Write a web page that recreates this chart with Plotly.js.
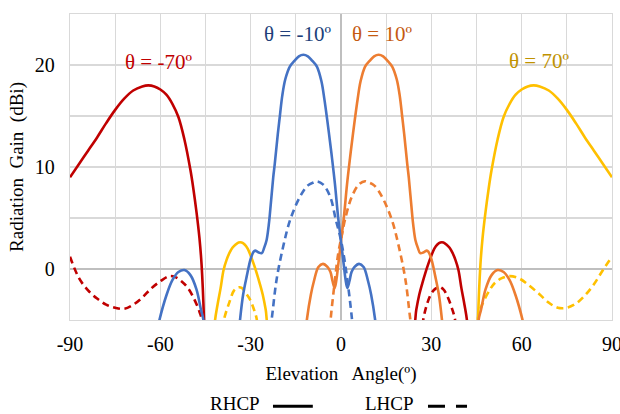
<!DOCTYPE html>
<html>
<head>
<meta charset="utf-8">
<script src="https://cdn.plot.ly/plotly-3.0.1.min.js"></script>
<style>html,body{margin:0;padding:0;background:#fff;}#chart{width:620px;height:414px;}</style>
</head>
<body>
<div id="chart"></div>
<script>
// theta = -70 deg
const red_R_x = [-90,-87,-84,-81,-78,-75,-72,-69,-66,-64,-62,-60,-58,-56,-54,-52,-50,-49,-48,-47,-46.3,-45.5,-45,-30,-10,10,24,25,26,27,28,29,30,31,32,33,34,35,36,37,38,39,40,41,42,42.6];
const red_R_y = [9.0,10.3,11.6,12.9,14.3,15.6,16.7,17.5,17.9,18.0,17.9,17.6,17.1,16.2,14.9,12.7,9.7,7.8,5.6,3.0,0.4,-5.0,-12,-15,-15,-15,-6,-4.0,-2.5,-1.4,-0.4,0.5,1.3,2.0,2.4,2.6,2.6,2.4,2.1,1.6,0.9,-0.1,-1.9,-3.5,-5.5,-12];
const red_L_x = [-90,-87,-84,-81,-78,-75,-72,-69,-66,-63,-60,-57,-55,-53,-51,-49,-47,-46,-45,-30,0,20,26.5,27.3,28.5,30,31.5,32.6,34,35.5,37,37.9,38.5];
const red_L_y = [1.2,-0.9,-2.1,-2.9,-3.5,-3.8,-3.9,-3.5,-2.8,-1.9,-1.2,-0.7,-0.8,-1.2,-1.8,-2.8,-4.2,-5.3,-12,-15,-15,-15,-7,-5.0,-3.5,-2.4,-1.9,-1.75,-2.0,-2.8,-4.0,-5.0,-7];
// theta = -10 deg
const blue_R_x = [-61,-60.3,-58,-56,-54,-52,-50,-48,-46.5,-45.7,-45,-40,-34,-33.5,-32.5,-31.3,-30,-29,-28.5,-27.5,-26.3,-25.5,-24.7,-24,-23.6,-22.5,-22,-21,-20.3,-19.5,-18.5,-17,-15.5,-14,-12.5,-11,-9.5,-8,-6.5,-5.5,-4.75,-4,-3,-2,-1,0,1,1.5,2.1,2.8,3.5,4.5,6,7.5,9,10,11.3,12];
const blue_R_y = [-6,-5.0,-2.6,-1.1,-0.3,-0.1,-0.6,-2.0,-4.0,-5.0,-12,-15,-6.5,-4.9,-2.5,-0.7,1.0,1.7,1.8,1.65,1.55,2.1,2.85,4.3,5.45,9.0,10.3,13.2,15.0,17.0,18.6,19.85,20.4,20.85,21.0,20.85,20.4,19.85,18.4,16.6,15.0,13.3,10.9,8.3,5.2,2.7,0.2,-1.0,-1.85,-1.2,-0.3,0.2,0.5,0.2,-1.2,-2.5,-4.9,-7];
const blue_L_x = [-24,-23,-21.4,-19.2,-16.9,-13.6,-11,-9,-8,-6,-3.6,-1.7,-0.3,0.8,2.1,3.6,4.2];
const blue_L_y = [-7,-4.9,-1.05,2.2,4.8,7.1,8.2,8.5,8.6,8.3,7.1,4.8,3.2,1.55,-1.05,-4.8,-7];
// theta = 10 deg
const orange_R_x = [-12,-11.3,-10,-9,-7.5,-6,-4.5,-3.5,-2.8,-2.1,-1.5,-1,0,1,2,3,4,4.75,5.5,6.5,8,9.5,11,12.5,14,15.5,17,18.5,19.5,20.3,21,22,22.5,23.6,24,24.7,25.5,26.3,27.5,28.5,29,30,31.3,32.5,33.5,34,40,45,45.7,46.5,48,50,52,54,56,58,60.3,61];
const orange_R_y = [-7,-4.9,-2.5,-1.2,0.2,0.5,0.2,-0.3,-1.2,-1.85,-1.0,0.2,2.7,5.2,8.3,10.9,13.3,15.0,16.6,18.4,19.85,20.4,20.85,21.0,20.85,20.4,19.85,18.6,17.0,15.0,13.2,10.3,9.0,5.45,4.3,2.85,2.1,1.55,1.65,1.8,1.7,1.0,-0.7,-2.5,-4.9,-6.5,-15,-12,-5.0,-4.0,-2.0,-0.6,-0.1,-0.3,-1.1,-2.6,-5.0,-6];
const orange_L_x = [-4,-3.4,-2,-0.9,0.2,1.3,3.6,6,8,9,11,13.6,16.9,19.2,21.4,23,24];
const orange_L_y = [-7,-4.8,-1.05,1.55,3.2,4.8,7.1,8.3,8.6,8.5,8.2,7.1,4.8,2.2,-1.05,-4.9,-7];
// theta = 70 deg
const yellow_R_x = [-42.6,-42,-41,-40,-39,-38,-37,-36,-35,-34,-33,-32,-31,-30,-29,-28,-27,-26,-25,-24,-10,10,30,45,45.5,46.3,47,48,49,50,52,54,56,58,60,62,64,66,69,72,75,78,81,84,87,90];
const yellow_R_y = [-12,-5.5,-3.5,-1.9,-0.1,0.9,1.6,2.1,2.4,2.6,2.6,2.4,2.0,1.3,0.5,-0.4,-1.4,-2.5,-4.0,-6,-15,-15,-15,-12,-5.0,0.4,3.0,5.6,7.8,9.7,12.7,14.9,16.2,17.1,17.6,17.9,18.0,17.9,17.5,16.7,15.6,14.3,12.9,11.6,10.3,9.0];
const yellow_L_x = [-40,-38.9,-37,-35.5,-34,-33,-31.5,-30.2,-29,-28,-27.5,-10,10,44.5,45.6,47,49.5,51,53.4,56,59,62,66,69,72,75,78,81,84,87,90];
const yellow_L_y = [-7,-5.0,-3.2,-2.1,-1.8,-1.85,-2.4,-3.0,-3.9,-4.9,-7,-15,-15,-12,-4.6,-3.4,-2.0,-1.4,-0.9,-0.7,-0.9,-1.5,-2.5,-3.3,-3.8,-3.8,-3.4,-2.6,-1.5,-0.1,1.2];

const xTickVals = [-90,-60,-30,0,30,60,90];
const xTickText = ['-90','-60','-30','0','30','60','90'];
const yTickVals = [0,10,20];
const yTickText = ['0','10','20'];
const labels = ['θ = -70º','θ = -10º','θ = 10º','θ = 70º'];
const labelX = [-60.5,-14.5,13.7,65.8];
const labelY = [20.3,23.0,23.0,20.4];
const labelColors = ['#C00000','#203F7A','#C55A11','#C09200'];

const RED='#C00000', BLUE='#4472C4', ORANGE='#ED7D31', YELLOW='#FFC000';
const W=2.6, DASH='7px,4.5px';
function tr(x,y,c,d){return {x:x,y:y,type:'scatter',mode:'lines',line:{color:c,width:W,dash:d,shape:'spline',smoothing:1},showlegend:false,hoverinfo:'skip'};}
const data=[
  tr(red_L_x,red_L_y,RED,DASH), tr(yellow_L_x,yellow_L_y,YELLOW,DASH),
  tr(blue_L_x,blue_L_y,BLUE,DASH), tr(orange_L_x,orange_L_y,ORANGE,DASH),
  tr(yellow_R_x,yellow_R_y,YELLOW,'solid'), tr(red_R_x,red_R_y,RED,'solid'),
  tr(orange_R_x,orange_R_y,ORANGE,'solid'), tr(blue_R_x,blue_R_y,BLUE,'solid')
];
const FONT='Liberation Serif, Times New Roman, serif';
const annotations = labels.map((t,i)=>({x:labelX[i],y:labelY[i],xref:'x',yref:'y',text:t,showarrow:false,font:{family:FONT,size:21,color:labelColors[i]}}));
annotations.push({xref:'paper',yref:'paper',x:0.304,y:-0.272,text:'RHCP',showarrow:false,xanchor:'center',yanchor:'middle',font:{family:FONT,size:19,color:'#000'}});
annotations.push({xref:'paper',yref:'paper',x:0.590,y:-0.272,text:'LHCP',showarrow:false,xanchor:'center',yanchor:'middle',font:{family:FONT,size:19,color:'#000'}});
const shapes=[
  {type:'line',xref:'paper',yref:'paper',x0:0.3745,x1:0.448,y0:-0.282,y1:-0.282,line:{color:'#000',width:3}},
  {type:'line',xref:'paper',yref:'paper',x0:0.6605,x1:0.7325,y0:-0.282,y1:-0.282,line:{color:'#000',width:3,dash:'17px,11px'}}
];
const layout={
  width:620,height:414,
  margin:{l:70,r:8,t:14,b:94},
  paper_bgcolor:'#fff',plot_bgcolor:'#fff',
  font:{family:FONT,size:20,color:'#000'},
  xaxis:{range:[-90,90],tickvals:xTickVals,ticktext:xTickText,showgrid:true,gridcolor:'#D9D9D9',gridwidth:1.3,
    minor:{dtick:15,tick0:0,showgrid:true,gridcolor:'#D9D9D9',gridwidth:1.3},
    zeroline:true,zerolinecolor:'#BFBFBF',zerolinewidth:1.5,showline:true,linecolor:'#D9D9D9',linewidth:1.3,mirror:true,
    ticks:'',ticklabelstandoff:6,ticklabeloverflow:'allow',tickfont:{family:FONT,size:20,color:'#000'},
    title:{text:'Elevation\u00a0\u00a0 Angle(º)',font:{family:FONT,size:19,color:'#000'},standoff:12}},
  yaxis:{range:[-5,25],tickvals:yTickVals,ticktext:yTickText,showgrid:true,gridcolor:'#D9D9D9',gridwidth:1.3,
    minor:{dtick:5,tick0:0,showgrid:true,gridcolor:'#D9D9D9',gridwidth:1.3},
    zeroline:true,zerolinecolor:'#BFBFBF',zerolinewidth:1.5,showline:true,linecolor:'#D9D9D9',linewidth:1.3,mirror:true,
    ticks:'',ticklabelstandoff:10,tickfont:{family:FONT,size:20,color:'#000'},
    title:{text:'Radiation\u00a0 Gain\u00a0 (dBi)',font:{family:FONT,size:19,color:'#000'},standoff:6}},
  annotations:annotations,shapes:shapes,showlegend:false
};
Plotly.newPlot('chart',data,layout,{displayModeBar:false,staticPlot:true});
</script>
</body>
</html>
